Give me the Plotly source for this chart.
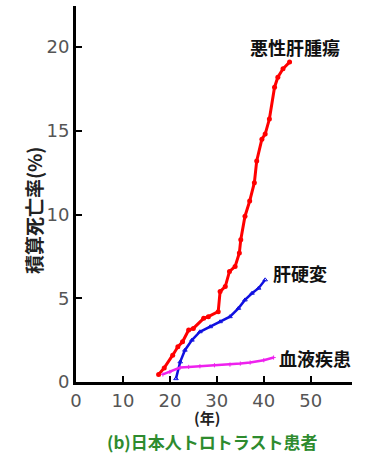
import plotly.graph_objects as go

# Data
liver_tumor_x = [17.6, 18.8, 20.6, 21.7, 22.7, 24.0, 25.0, 27.2, 28.2, 30.3, 30.7, 31.8, 32.7, 33.9,
                 34.8, 35.1, 36.0, 37.0, 38.0, 38.5, 39.6, 40.3, 41.2, 42.3, 43.0, 44.1, 45.5]
liver_tumor_y = [0.45, 0.84, 1.6, 2.1, 2.4, 3.1, 3.2, 3.8, 3.9, 4.2, 5.4, 5.7, 6.6, 6.9,
                 7.7, 8.5, 9.9, 10.8, 11.9, 13.2, 14.5, 14.8, 15.7, 17.6, 18.2, 18.7, 19.1]

cirrhosis_x = [21.3, 22.2, 23.2, 24.7, 26.4, 28.6, 30.7, 32.8, 34.6, 36.0, 37.5, 38.9, 40.3]
cirrhosis_y = [0.2, 1.2, 1.9, 2.5, 3.0, 3.3, 3.6, 3.9, 4.4, 4.9, 5.3, 5.6, 6.1]

blood_x = [18.5, 20.0, 22.2, 24.0, 26.4, 29.5, 32.8, 35.0, 37.1, 40.0, 42.1]
blood_y = [0.45, 0.6, 0.86, 0.9, 0.94, 1.0, 1.04, 1.1, 1.16, 1.3, 1.46]

x_ticks = [0, 10, 20, 30, 40, 50]
y_ticks = [0, 5, 10, 15, 20]

labels = ["悪性肝腫瘍", "肝硬変", "血液疾患"]
label_pos = [(46.6, 20.0), (47.8, 6.5), (50.9, 1.42)]

fig = go.Figure()
fig.add_trace(go.Scatter(x=liver_tumor_x, y=liver_tumor_y, mode="lines+markers",
                         line=dict(color="#ff0000", width=3),
                         marker=dict(symbol="circle", size=5, color="#ff0000")))
fig.add_trace(go.Scatter(x=cirrhosis_x, y=cirrhosis_y, mode="lines+markers",
                         line=dict(color="#1010e0", width=2.5),
                         marker=dict(symbol="triangle-up-open", size=4, color="#1010e0")))
fig.add_trace(go.Scatter(x=blood_x, y=blood_y, mode="lines+markers",
                         line=dict(color="#ee22ee", width=2.5),
                         marker=dict(symbol="cross-thin-open", size=3, color="#ee22ee")))

cjk = "Noto Sans CJK JP"
for t, (ax, ay) in zip(labels, label_pos):
    fig.add_annotation(x=ax, y=ay, xref="x", yref="y", text=t, showarrow=False,
                       font=dict(family=cjk, size=18, color="#111111", weight="bold"))

fig.add_annotation(x=-0.156, y=0.457, xref="paper", yref="paper", text="積算死亡率(%)",
                   textangle=-90, showarrow=False, xanchor="center", yanchor="middle",
                   font=dict(family=cjk, size=19, color="#222222", weight="bold"))
fig.add_annotation(x=0.475, y=-0.094, xref="paper", yref="paper", text="(年)",
                   showarrow=False, xanchor="center", yanchor="middle",
                   font=dict(family=cjk, size=15, color="#222222", weight="bold"))
fig.add_annotation(x=0.493, y=-0.157, xref="paper", yref="paper", text="(b)日本人トロトラスト患者",
                   showarrow=False, xanchor="center", yanchor="middle",
                   font=dict(family=cjk, size=17, color="#2e8b2e", weight="bold"))

tickfont = dict(family="DejaVu Sans", size=18, color="#555555")
fig.update_layout(
    width=365, height=454,
    margin=dict(l=76, r=13, t=6, b=72, pad=0),
    paper_bgcolor="white", plot_bgcolor="white",
    showlegend=False,
    xaxis=dict(range=[0, 58.8], tickvals=x_ticks, showgrid=False, zeroline=False,
               showline=True, linecolor="black", linewidth=3,
               ticks="inside", ticklen=6, tickwidth=2, tickcolor="black",
               tickfont=tickfont),
    yaxis=dict(range=[0, 22.45], tickvals=y_ticks, showgrid=False, zeroline=False,
               showline=True, linecolor="black", linewidth=3,
               ticks="inside", ticklen=6, tickwidth=2, tickcolor="black",
               tickfont=tickfont),
)

fig.write_html("out.html")
